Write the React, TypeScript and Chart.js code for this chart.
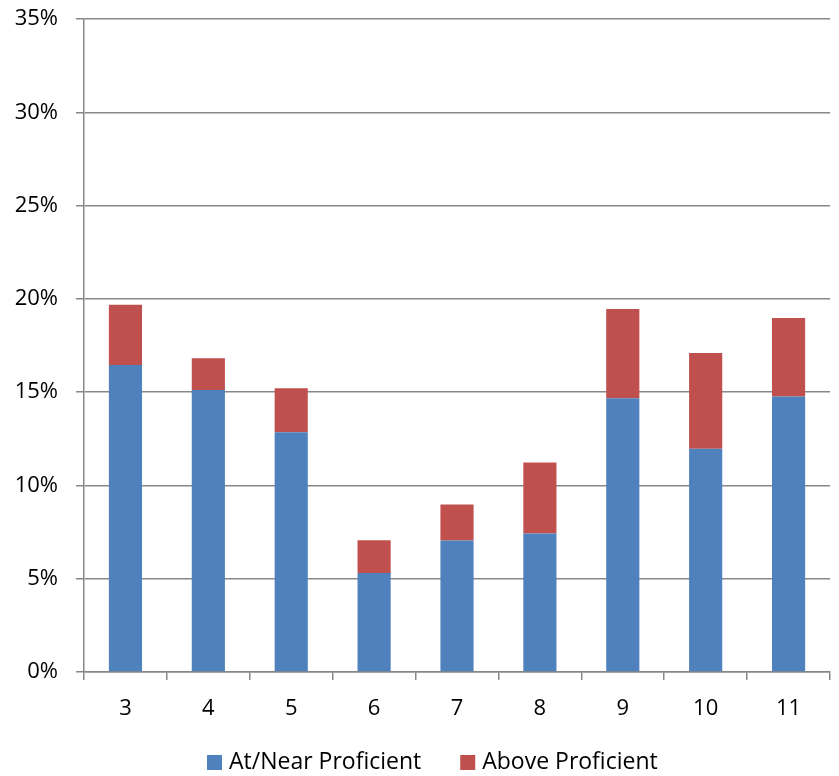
import React, { useEffect, useRef } from "react";
import { Chart, registerables } from "chart.js";

Chart.register(...registerables);

// Grade levels on the horizontal axis
const grades: string[] = ["3", "4", "5", "6", "7", "8", "9", "10", "11"];

// Share of students per grade (percent)
const atNearProficient: number[] = [16.46, 15.12, 12.85, 5.31, 7.05, 7.42, 14.67, 11.97, 14.76];
const aboveProficient: number[] = [3.22, 1.7, 2.36, 1.75, 1.93, 3.81, 4.78, 5.13, 4.21];

// Y axis range and step (percent)
const yMin = 0;
const yMax = 35;
const yStep = 5;

const FONT = "'Open Sans', 'DejaVu Sans', sans-serif";
const FONT_SIZE = 22;
const LEGEND_FONT_SIZE = 23;
const GRID = "#878787";

// Legend row drawn under the x axis, centred slightly right of the canvas middle
const bottomLegend = {
  id: "bottomLegend",
  afterDraw(chart: any) {
    const ctx: CanvasRenderingContext2D = chart.ctx;
    const box = 15;
    const boxGap = 7;
    const itemGap = 39;
    const centerY = 762;
    ctx.save();
    ctx.font = `${LEGEND_FONT_SIZE}px ${FONT}`;
    ctx.textBaseline = "middle";
    ctx.textAlign = "left";
    const items = chart.data.datasets.map((ds: any) => ({
      label: ds.label as string,
      color: ds.backgroundColor as string,
      w: ctx.measureText(ds.label).width,
    }));
    const total =
      items.reduce((s: number, it: any) => s + box + boxGap + it.w, 0) + itemGap * (items.length - 1);
    let x = Math.round(chart.width / 2 + 13 - total / 2);
    for (const it of items) {
      ctx.fillStyle = it.color;
      ctx.fillRect(x, centerY - box / 2 + 0.5, box, box);
      ctx.fillStyle = "#000";
      ctx.fillText(it.label, x + box + boxGap, centerY);
      x += box + boxGap + it.w + itemGap;
    }
    ctx.restore();
  },
};

export default function App() {
  const canvasRef = useRef<HTMLCanvasElement | null>(null);

  useEffect(() => {
    const canvas = canvasRef.current;
    if (!canvas) return;
    const chart = new Chart(canvas, {
      type: "bar",
      data: {
        labels: grades,
        datasets: [
          {
            label: "At/Near Proficient",
            data: atNearProficient,
            backgroundColor: "#4F81BD",
            borderWidth: 0,
            barPercentage: 0.4,
            categoryPercentage: 1,
          },
          {
            label: "Above Proficient",
            data: aboveProficient,
            backgroundColor: "#C0504D",
            borderWidth: 0,
            barPercentage: 0.4,
            categoryPercentage: 1,
          },
        ],
      },
      plugins: [bottomLegend],
      options: {
        responsive: false,
        animation: false,
        layout: { padding: { top: 19, left: 0, right: 9, bottom: 60 } },
        plugins: {
          tooltip: { enabled: false },
          legend: { display: false },
        },
        scales: {
          x: {
            stacked: true,
            grid: {
              display: true,
              drawOnChartArea: false,
              drawTicks: true,
              tickLength: 8,
              color: GRID,
              lineWidth: 1.5,
              offset: true,
            },
            border: { display: true, color: GRID, width: 1.5 },
            ticks: {
              color: "#000",
              padding: 16,
              font: { family: FONT, size: FONT_SIZE },
            },
            afterFit: (scale: any) => {
              scale.height = 44;
            },
          },
          y: {
            stacked: true,
            min: yMin,
            max: yMax,
            grid: {
              color: GRID,
              lineWidth: 1.5,
              drawTicks: true,
              tickLength: 8,
            },
            border: { display: true, color: GRID, width: 1.5 },
            ticks: {
              stepSize: yStep,
              color: "#000",
              padding: 18,
              font: { family: FONT, size: FONT_SIZE },
              callback: (v: any) => `${v}%`,
            },
            afterFit: (scale: any) => {
              scale.width = 84;
              scale.paddingTop = 0;
              scale.paddingBottom = 0;
            },
          },
        },
      },
    });
    return () => chart.destroy();
  }, []);

  return (
    <div style={{ position: "fixed", left: 0, top: 0, width: 839, height: 776, background: "#fff" }}>
      <canvas ref={canvasRef} width={839} height={776} />
    </div>
  );
}
